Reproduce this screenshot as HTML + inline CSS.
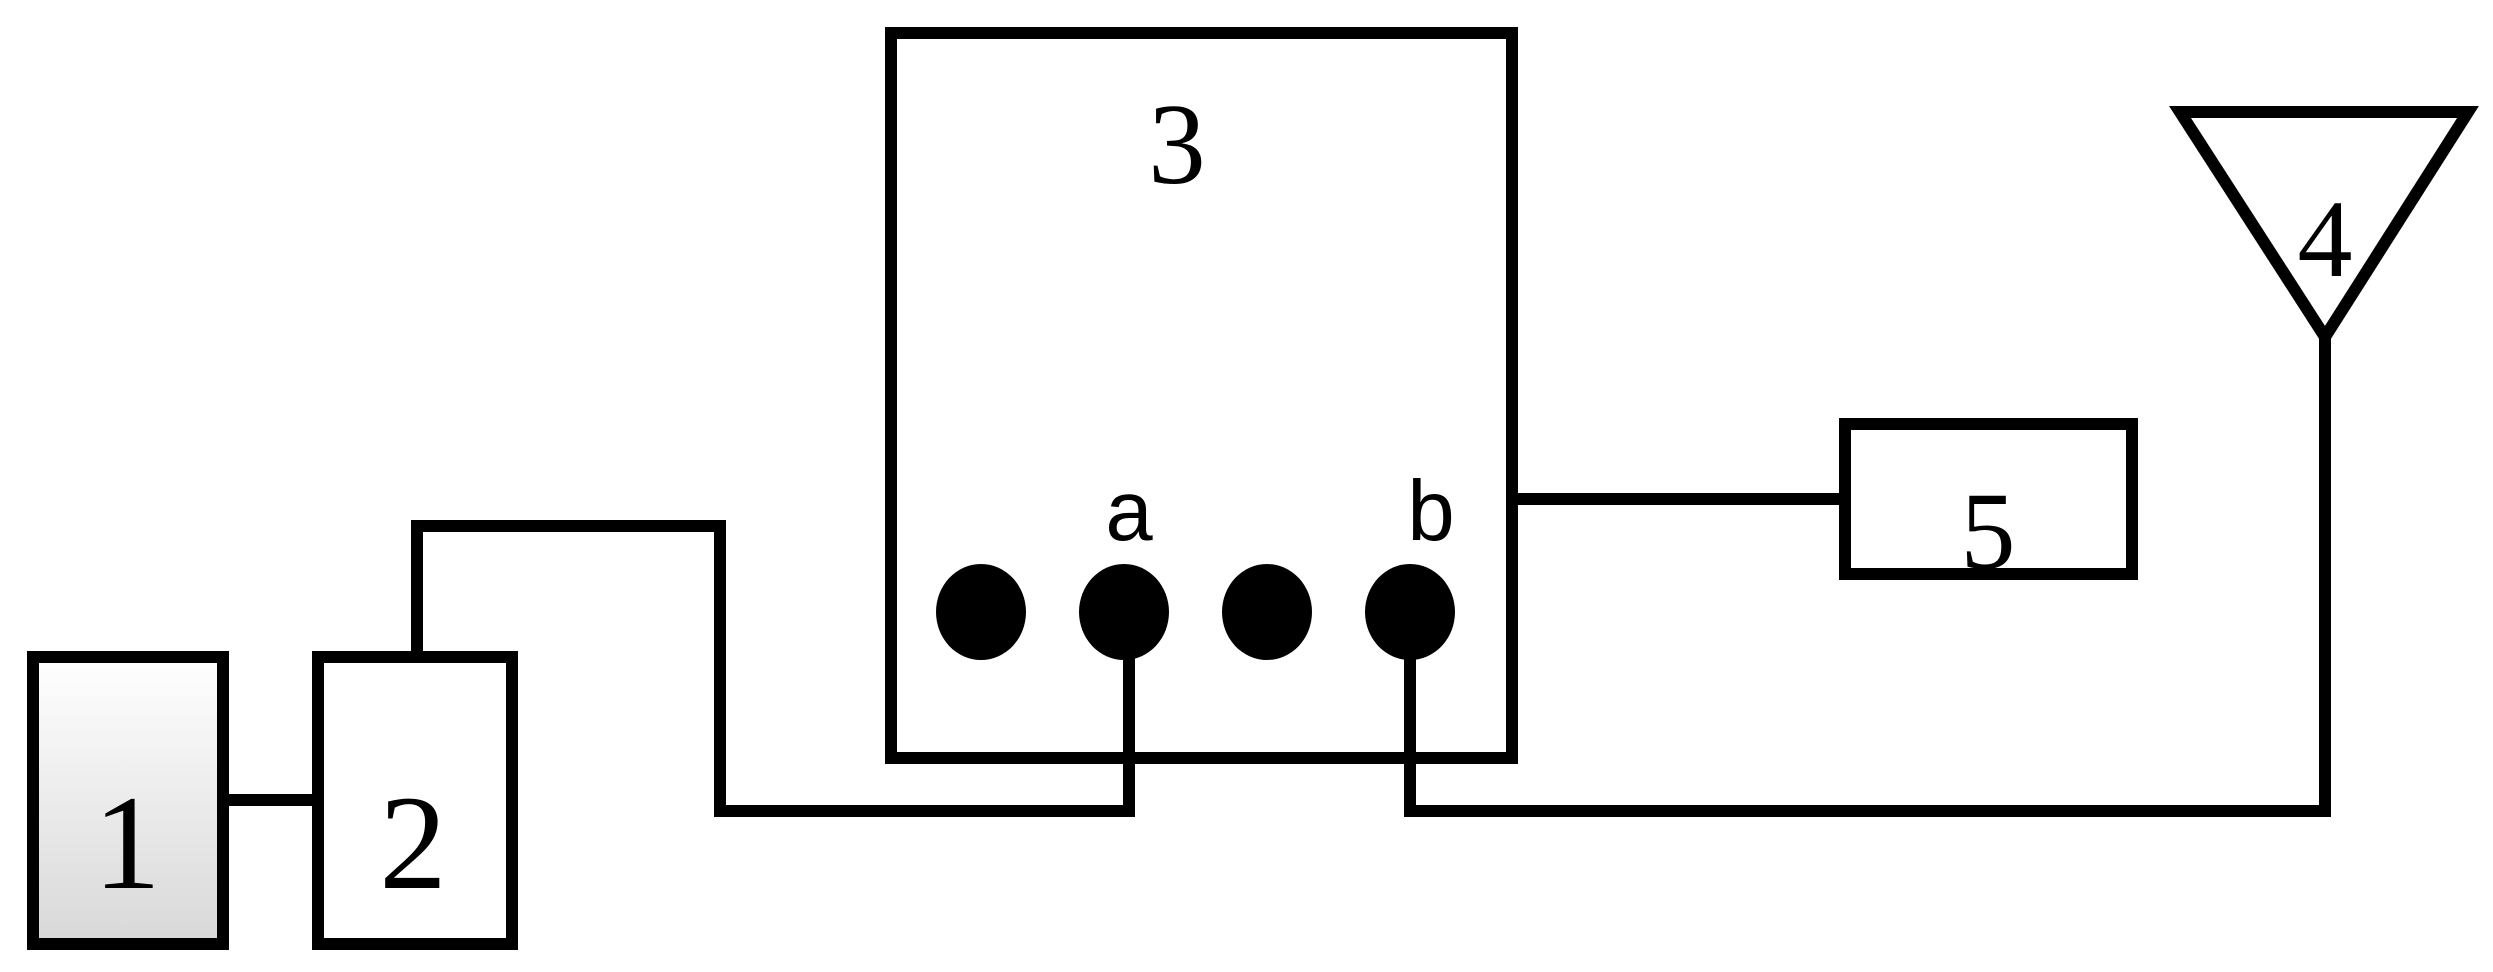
<!DOCTYPE html>
<html><head><style>html,body{margin:0;padding:0;background:#fff}svg{display:block}</style></head>
<body>
<svg width="2493" height="972" viewBox="0 0 2493 972" xmlns="http://www.w3.org/2000/svg">
<defs>
<linearGradient id="g" x1="0" y1="0" x2="0" y2="1">
<stop offset="0" stop-color="#ffffff"/><stop offset="1" stop-color="#d8d8d8"/>
</linearGradient>
</defs>
<g fill="none" stroke="#000" stroke-width="12">
<rect x="33" y="657" width="190" height="287" fill="url(#g)"/>
<rect x="318" y="657" width="194" height="287" fill="#fff"/>
<line x1="223" y1="800" x2="318" y2="800"/>
<rect x="891" y="33" width="621" height="725"/>
<rect x="1845" y="424" width="287" height="150"/>
<polygon points="2180,112 2468,112 2325,337" stroke-linejoin="miter"/>
<line x1="1512" y1="499" x2="1845" y2="499"/>
<polyline points="417,652 417,526 720,526 720,811 1129,811 1129,612"/>
<polyline points="1410,612 1410,811 2325,811 2325,337"/>
</g>
<g fill="#000">
<ellipse cx="981" cy="612" rx="45" ry="48"/>
<ellipse cx="1124" cy="612" rx="45" ry="48"/>
<ellipse cx="1267" cy="612" rx="45" ry="48"/>
<ellipse cx="1410" cy="612" rx="45" ry="48"/>
</g>
<g font-family="Liberation Serif, serif" text-anchor="middle" fill="#000">
<text x="1177" y="183" font-size="115">3</text>
<text x="2325" y="276" font-size="110">4</text>
<text x="1988" y="568" font-size="110">5</text>
<text x="127" y="888" font-size="135">1</text>
<text x="413" y="888" font-size="135">2</text>
</g>
<g font-family="Liberation Sans, sans-serif" font-size="85" text-anchor="middle" fill="#000">
<text x="1129" y="540">a</text>
<text x="1431" y="540">b</text>
</g>
</svg>
</body></html>
